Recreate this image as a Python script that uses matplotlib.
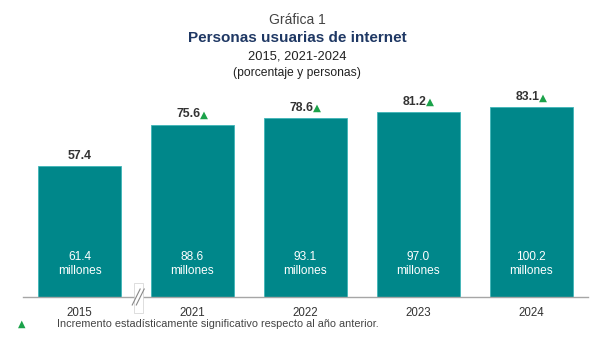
import matplotlib.pyplot as plt
from matplotlib.lines import Line2D

plt.rcParams['font.family'] = ['Liberation Sans', 'DejaVu Sans']

years = ["2015", "2021", "2022", "2023", "2024"]
porcentaje = [57.4, 75.6, 78.6, 81.2, 83.1]
millones = [61.4, 88.6, 93.1, 97.0, 100.2]
significativo = [False, True, True, True, True]

teal = "#00878A"
green = "#1BA24A"
dark = "#333333"

fig = plt.figure(figsize=(5.94, 3.42), dpi=100)
ax = fig.add_axes([0.0387, 0.1316, 0.951, 0.667])

x = range(len(years))
ax.bar(x, porcentaje, width=0.74, color=teal, edgecolor="#3FB5B8", linewidth=0.6, zorder=2)
ax.set_xlim(-0.5, 4.5)
ax.set_ylim(0, 100)

for i, (p, m, s) in enumerate(zip(porcentaje, millones, significativo)):
    dx = -3 if s else 0
    ax.annotate(f"{p:.1f}", (i, p), xytext=(dx, 3), textcoords="offset points",
                ha="center", va="bottom", fontsize=8.8, fontweight="bold", color=dark)
    if s:
        ax.annotate("▲", (i, p), xytext=(dx + 11.5, 3.5), textcoords="offset points",
                    ha="center", va="bottom", fontsize=7.5, color=green,
                    family="DejaVu Sans")
    ax.text(i, 14.5, f"{m:.1f}\nmillones", ha="center", va="center",
            fontsize=8.6, color="white", linespacing=1.3)

# baseline and year labels
for side in ["top", "right", "left"]:
    ax.spines[side].set_visible(False)
ax.spines["bottom"].set_color("#A6A6A6")
ax.spines["bottom"].set_linewidth(1)
ax.set_yticks([])
ax.set_xticks(list(x))
ax.set_xticklabels(years, fontsize=8.3, color=dark)
ax.tick_params(axis="x", length=0, pad=7)

# axis break between 2015 and 2021
bx = 0.52
ax.add_patch(plt.Rectangle((bx - 0.04, -7), 0.08, 13, facecolor="white",
                           edgecolor="#D0D0D0", linewidth=0.5, clip_on=False, zorder=3))
for off in (-0.018, 0.018):
    ax.add_line(Line2D([bx + off - 0.035, bx + off + 0.035], [-3.5, 3.5],
                       color="#888888", linewidth=0.8, clip_on=False, zorder=4))

# titles
fig.text(0.5, 0.942, "Gráfica 1", ha="center", va="center", fontsize=10, color="#444444")
fig.text(0.5, 0.888, "Personas usuarias de internet", ha="center", va="center",
         fontsize=11, fontweight="bold", color="#1F3864")
fig.text(0.5, 0.835, "2015, 2021-2024", ha="center", va="center", fontsize=9.3, color="#222222")
fig.text(0.5, 0.788, "(porcentaje y personas)", ha="center", va="center", fontsize=8.7, color="#222222")

# footnote
fig.text(0.037, 0.054, "▲", ha="center", va="center", fontsize=7, color=green,
         family="DejaVu Sans")
fig.text(0.096, 0.052, "Incremento estadísticamente significativo respecto al año anterior.",
         ha="left", va="center", fontsize=7.8, color="#444444")

fig.savefig("out.png", dpi=100, facecolor="white")
